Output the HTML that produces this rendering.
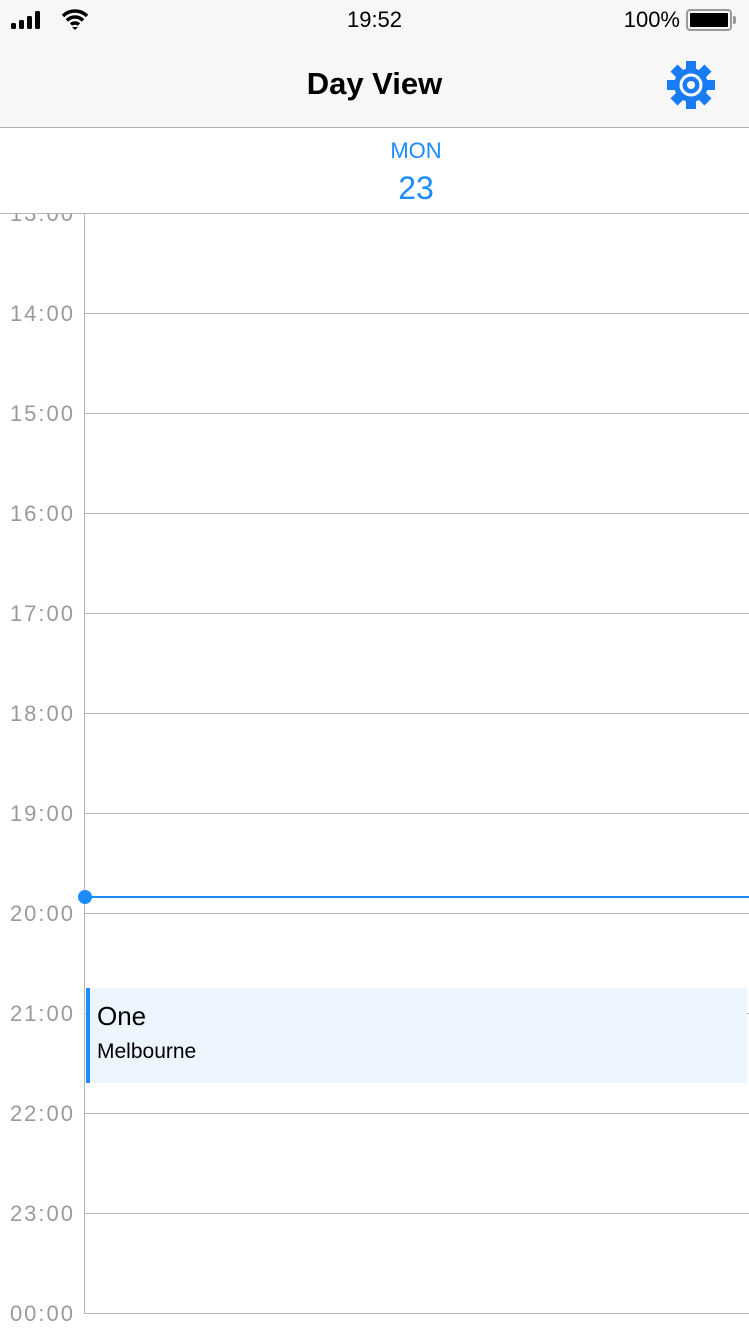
<!DOCTYPE html>
<html><head><meta charset="utf-8"><style>
*{margin:0;padding:0;box-sizing:border-box}
body{width:749px;height:1333px;background:#fff;font-family:"Liberation Sans",sans-serif;position:relative;overflow:hidden}
.abs{position:absolute}
</style></head><body>
<div class="abs" style="left:0;top:0;width:749px;height:128px;background:#f7f7f7;border-bottom:1px solid #b2b2b2"></div>
<svg class="abs" style="left:10px;top:10px" width="36" height="20">
<rect x="1" y="13" width="5" height="6" rx="1.5"/><rect x="9" y="10" width="5" height="9" rx="1.5"/><rect x="17" y="6" width="5" height="13" rx="1.5"/><rect x="25" y="1" width="5" height="18" rx="1.5"/></svg>
<svg class="abs" style="left:62px;top:9px" width="26" height="22" viewBox="0 0 26 22">
<path d="M1 7 A17 17 0 0 1 25 7" stroke="#000" stroke-width="3.5" fill="none"/><path d="M5 11.5 A11 11 0 0 1 21 11.5" stroke="#000" stroke-width="3.5" fill="none"/><path d="M9 15.5 A6 6 0 0 1 17 15.5" stroke="#000" stroke-width="3.5" fill="none"/><path d="M10 18 L13 21 L16 18 Z"/></svg>
<div class="abs" style="left:0;width:749px;top:7px;text-align:center;font-size:22px;color:#000">19:52</div>
<div class="abs" style="left:600px;width:80px;top:7px;text-align:right;font-size:22px">100%</div>
<div class="abs" style="left:686px;top:9px;width:46px;height:22px;border:2px solid #999;border-radius:4px;padding:2px"><div style="width:100%;height:100%;background:#000;border-radius:1px"></div></div>
<div class="abs" style="left:733px;top:16px;width:3px;height:8px;background:#999;border-radius:0 2px 2px 0"></div>
<div class="abs" style="left:0;width:749px;top:66px;text-align:center;font-size:31px;font-weight:bold">Day View</div>
<svg class="abs" style="left:666px;top:60px" width="50" height="50" viewBox="-25 -25 50 50">
<g fill="#1a7cf5"><circle r="17"/>
<g id="t"><rect x="-5" y="-24" width="10" height="10"/></g>
<use href="#t" transform="rotate(45)"/><use href="#t" transform="rotate(90)"/><use href="#t" transform="rotate(135)"/><use href="#t" transform="rotate(180)"/><use href="#t" transform="rotate(225)"/><use href="#t" transform="rotate(270)"/><use href="#t" transform="rotate(315)"/></g>
<circle r="10" fill="none" stroke="#fff" stroke-width="3"/><circle r="4" fill="#fff"/></svg>
<div class="abs" style="left:0;width:832px;top:138px;text-align:center;font-size:22px;color:#1a8cff">MON</div>
<div class="abs" style="left:0;width:832px;top:170px;text-align:center;font-size:32px;color:#1a8cff">23</div>
<div class="abs" style="left:0;top:213px;width:749px;height:1px;background:#b5b5b5"></div>
<div id="grid" class="abs" style="left:0;top:214px;width:749px;height:1119px;overflow:hidden"></div>
<script>
const hours=["13:00","14:00","15:00","16:00","17:00","18:00","19:00","20:00","21:00","22:00","23:00","00:00"];
const nowTime=19.84;
const eventStart=20.75, eventEnd=21.7;
const eventTitle="One", eventLocation="Melbourne";
const g=document.getElementById('grid');
const y=h=>(h-13)*100-1;
let v=document.createElement('div');


v.style.cssText='position:absolute;left:84px;top:0;width:1px;height:'+y(24)+'px;background:#b5b5b5';
g.appendChild(v);
hours.forEach((t,i)=>{
 const hy=y(13+i);
 const l=document.createElement('div');
 
 
 l.style.cssText='position:absolute;left:84px;width:665px;height:1px;background:#b5b5b5;top:'+hy+'px';
 g.appendChild(l);
 const d=document.createElement('div');
 
 
 d.textContent=t;
 d.style.cssText='position:absolute;left:0;width:75px;text-align:right;font-size:22px;letter-spacing:2px;color:#9a9a9a;top:'+(hy-12)+'px';
 g.appendChild(d);
});
const e=document.createElement('div');


e.style.cssText='position:absolute;left:86px;width:661px;background:#edf5ff;border-left:4px solid #1a8cff;top:'+y(eventStart)+'px;height:'+(y(eventEnd)-y(eventStart))+'px';
e.innerHTML='<div style="position:absolute;left:7px;top:13px;font-size:26px;color:#000">'+eventTitle+'</div><div style="position:absolute;left:7px;top:52px;font-size:21px;color:#000">'+eventLocation+'</div>';
g.appendChild(e);
const n=document.createElement('div');


n.style.cssText='position:absolute;left:84px;width:665px;height:2px;background:#1a8cff;top:'+(y(nowTime)-1)+'px';
g.appendChild(n);
const c=document.createElement('div');


c.style.cssText='position:absolute;left:78px;width:14px;height:14px;border-radius:50%;background:#1a8cff;top:'+(y(nowTime)-7)+'px';
g.appendChild(c);
</script>
</body></html>
